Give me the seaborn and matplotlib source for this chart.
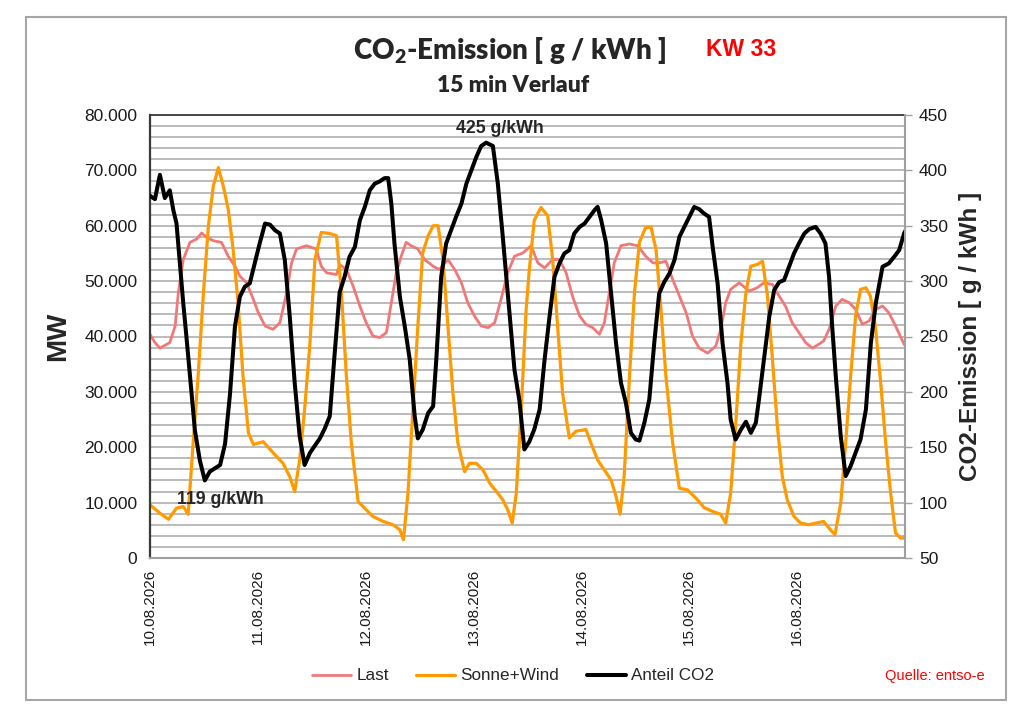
import pandas as pd
import numpy as np
import matplotlib
matplotlib.use("Agg")
import matplotlib.pyplot as plt
import matplotlib.dates as mdates
from matplotlib.patches import Rectangle
from matplotlib.ticker import MultipleLocator, FuncFormatter
import seaborn as sns

# Werte: (Stunde ab 10.08.2026 00:00, Wert)
last_pts = [
    (0, 40400), (1.1, 38900), (2.2, 37900), (4.4, 38900), (5.6, 41900), (6.3, 47900),
    (7.4, 53900), (8.9, 57000), (10.4, 57600), (11.5, 58700), (12.6, 57900), (14.1, 57300),
    (15.9, 57000), (17.4, 54500), (18.9, 52700), (20, 50900), (21.5, 49700), (23, 46700),
    (24.1, 44300), (25.6, 41900), (27.4, 41300), (28.9, 42500), (30.4, 47900), (31.5, 53300),
    (32.6, 55800), (34.8, 56400), (37, 55800), (38.1, 52700), (39.3, 51500), (41.5, 51200),
    (42.2, 53000), (43.7, 52100), (45.2, 49100), (46.7, 45500), (48.1, 42500), (49.6, 40100),
    (51.1, 39800), (52.6, 40700), (53.7, 46100), (54.8, 51500), (55.9, 54500), (57, 57000),
    (58.1, 56400), (59.6, 55800), (61.1, 53900), (63, 52700), (64.4, 52100), (66.3, 53900),
    (67.8, 52100), (69.3, 49700), (70.7, 46100), (72.2, 43700), (73.7, 41900), (75.2, 41600),
    (76.7, 42500), (78.1, 46700), (79.6, 51500), (81.1, 54500), (83, 55100), (84.8, 56400),
    (86.3, 53300), (87.8, 52400), (89.6, 53900), (91.1, 53900), (92.6, 51500), (94, 47300),
    (95.6, 43700), (97, 42200), (98.5, 41600), (100, 40400), (101.1, 42500), (102.2, 47900),
    (103.3, 53300), (104.8, 56400), (106.7, 56700), (108.5, 56400), (110.3, 54500), (111.9, 53300),
    (113.3, 53300), (114.8, 53600), (116.3, 50300), (117.8, 47300), (119.3, 44300), (120.7, 40100),
    (122.2, 37900), (124.1, 37000), (125.9, 38300), (127, 41300), (128.1, 46100), (129.2, 48500),
    (131.1, 49700), (133.3, 48200), (135.1, 48800), (136.6, 49700), (138.5, 49400), (140, 47300),
    (141.4, 45500), (142.9, 42500), (144.4, 40700), (145.9, 38900), (147.4, 37900), (148.8, 38600),
    (149.9, 39200), (151.1, 41300), (152.6, 45500), (154, 46700), (155.6, 46100), (157, 44900),
    (158.5, 42200), (160, 42800), (161.5, 44900), (163, 45500), (164.4, 44300), (165.9, 41900),
    (167.8, 38600), (168, 38400),
]

sonne_wind_pts = [
    (0, 9600), (2.2, 8100), (4.1, 7000), (5.9, 9000), (7.4, 9300), (8.5, 7900),
    (9.6, 20800), (10.7, 32800), (11.9, 48000), (13, 60000), (14.1, 67200), (15.2, 70500),
    (16.3, 67200), (17.4, 63000), (18.5, 55700), (19.6, 46100), (20.7, 32800), (21.9, 22600),
    (23, 20500), (25.2, 21000), (27.4, 19000), (29.6, 17100), (31.1, 14700), (32.2, 12000),
    (33.3, 17700), (34.4, 26800), (35.6, 38900), (36.7, 53900), (38.1, 58800), (40, 58600),
    (41.5, 58200), (42.6, 47900), (43.7, 32800), (44.8, 20800), (46.3, 10200), (47.4, 9300),
    (49.6, 7500), (51.9, 6600), (54.1, 6000), (55.6, 5100), (56.4, 3300), (57.4, 11700),
    (58.5, 26800), (59.6, 41900), (60.7, 55200), (61.9, 58200), (63, 60000), (64.1, 60000),
    (65.2, 53900), (66.3, 41900), (67.4, 29800), (68.5, 20800), (70, 15600), (71.1, 17100),
    (72.6, 17100), (74.1, 15900), (75.6, 13500), (77.4, 11700), (78.5, 10500), (79.6, 8700),
    (80.6, 6300), (81.5, 11700), (82.6, 26800), (83.7, 44900), (84.4, 52000), (85.5, 61000),
    (87, 63300), (88.5, 61800), (89.6, 53900), (90.7, 41900), (91.8, 29800), (93.3, 21700),
    (94.8, 22900), (97, 23200), (98.1, 20800), (99.6, 17700), (101.1, 15900), (102.6, 14100),
    (103.7, 11100), (104.6, 7900), (105.5, 14700), (106.7, 32800), (107.8, 47900), (108.9, 57000),
    (110.3, 59700), (111.5, 59700), (112.6, 55700), (113.7, 44900), (114.8, 32800), (116.3, 20800),
    (117.8, 12600), (119.6, 12300), (121.5, 10800), (123.3, 9100), (125.2, 8400), (127, 7900),
    (128.1, 6300), (129.2, 11700), (130.3, 23800), (131.5, 38900), (132.6, 47900), (133.7, 52700),
    (135.1, 53000), (136.3, 53600), (137.4, 47300), (138.5, 35900), (139.6, 23800), (140.7, 14700),
    (141.8, 10500), (143.3, 7500), (144.8, 6300), (146.6, 6000), (148.1, 6300), (149.9, 6600),
    (151.4, 5100), (152.4, 4200), (153.7, 9900), (154.8, 20800), (155.9, 32800), (157, 43700),
    (158.1, 48500), (159.3, 48800), (160.3, 47300), (161.4, 41900), (162.6, 31600), (163.7, 20800),
    (164.8, 11700), (165.9, 4500), (167, 3600), (168, 3600),
]

co2_pts = [
    (0, 377), (1.1, 374), (2.2, 396), (3.3, 375), (4.4, 382), (5.2, 364), (5.9, 352),
    (6.7, 313), (7.4, 280), (8.1, 250), (8.9, 214), (10, 165), (11.1, 138), (12.2, 120),
    (13.3, 128), (15.6, 134), (16.7, 153), (17.8, 198), (18.9, 259), (20, 286), (21.1, 295),
    (22.2, 298), (23.3, 316), (24.4, 334), (25.6, 352), (26.7, 351), (27.8, 346), (28.9, 343),
    (30, 319), (31.1, 268), (32.2, 208), (33.3, 160), (34.4, 134), (35.6, 145), (37.8, 158),
    (38.9, 167), (40, 178), (41.1, 235), (42.2, 290), (43.3, 304), (44.4, 322), (45.6, 331),
    (46.7, 355), (47.8, 367), (48.9, 382), (50, 388), (51.1, 390), (52.2, 393), (53, 393),
    (53.7, 370), (54.4, 334), (55.6, 286), (56.7, 259), (57.8, 229), (58.9, 178), (59.6, 158),
    (60.7, 166), (61.9, 181), (63, 187), (63.7, 229), (64.8, 304), (65.9, 334), (67, 346),
    (68.1, 358), (69.3, 370), (70.4, 388), (71.5, 400), (72.6, 412), (73.7, 422), (74.8, 425),
    (76.3, 422), (77.4, 388), (78.5, 340), (79.6, 289), (81.1, 220), (82.2, 192), (83.3, 148),
    (84.4, 155), (85.5, 166), (86.7, 184), (87.8, 229), (88.9, 268), (90, 304), (91.1, 316),
    (92.2, 325), (93.3, 328), (94.4, 343), (95.6, 349), (96.7, 352), (97.8, 358), (98.9, 364),
    (99.6, 367), (100.4, 355), (101.5, 334), (102.6, 289), (103.7, 244), (104.8, 208), (105.9, 190),
    (107, 163), (108.1, 157), (108.9, 156), (110, 172), (111.1, 193), (112.2, 244), (113.3, 289),
    (114.4, 299), (115.6, 307), (116.7, 319), (117.8, 340), (118.9, 349), (120, 358), (121.1, 367),
    (122.2, 365), (123.3, 361), (124.4, 358), (125.2, 331), (126.3, 298), (127.4, 244), (128.5, 208),
    (129.2, 175), (130.3, 157), (131.5, 166), (132.6, 173), (133.7, 163), (134.8, 172), (135.5, 193),
    (136.6, 229), (137.8, 268), (138.9, 292), (140, 299), (141.1, 301), (142.2, 313), (143.3, 325),
    (144.4, 334), (145.6, 343), (146.7, 347), (148.1, 349), (149.2, 343), (150.3, 334), (151.1, 304),
    (151.8, 259), (152.6, 214), (153.7, 160), (154.8, 124), (155.9, 133), (157, 145), (158.1, 157),
    (159.3, 184), (160.4, 244), (161.5, 280), (163, 313), (164.4, 316), (165.6, 322), (166.7, 328),
    (167.8, 343), (168, 345),
]

serien_namen = ["Last", "Sonne+Wind", "Anteil CO2"]
start = pd.Timestamp("2026-08-10")
tage = pd.date_range(start, periods=7, freq="D")
links_ticks = list(range(0, 80001, 10000))
rechts_ticks = list(range(50, 451, 50))

farbe_last = "#F27878"
farbe_sw = "#FF9B00"
farbe_co2 = "#000000"


def als_df(pts):
    df = pd.DataFrame(pts, columns=["stunde", "wert"])
    df["zeit"] = start + pd.to_timedelta(df["stunde"], unit="h")
    return df


df_last = als_df(last_pts)
df_sw = als_df(sonne_wind_pts)
df_co2 = als_df(co2_pts)

sns.set_style("white")
plt.rcParams["font.family"] = ["Liberation Sans", "DejaVu Sans"]
plt.rcParams["mathtext.fontset"] = "custom"
plt.rcParams["mathtext.rm"] = "Lato:heavy"
plt.rcParams["mathtext.bf"] = "Lato:heavy"

fig = plt.figure(figsize=(10.24, 7.21), dpi=100)
ax = fig.add_axes([150 / 1024, 1 - 558 / 721, 755 / 1024, 443 / 721])
ax2 = ax.twinx()

sns.lineplot(data=df_last, x="zeit", y="wert", ax=ax, color=farbe_last, lw=2.0,
             estimator=None, legend=False)
h_last = ax.lines[-1]
sns.lineplot(data=df_sw, x="zeit", y="wert", ax=ax, color=farbe_sw, lw=2.3,
             estimator=None, legend=False)
h_sw = ax.lines[-1]
sns.lineplot(data=df_co2, x="zeit", y="wert", ax=ax2, color=farbe_co2, lw=2.9,
             estimator=None, legend=False)
h_co2 = ax2.lines[-1]

# Achsen
ax.set_xlim(start, start + pd.Timedelta(days=7))
ax.set_xticks(tage)
ax.xaxis.set_major_formatter(mdates.DateFormatter("%d.%m.%Y"))
ax.tick_params(axis="x", length=0, labelsize=11, pad=8, labelrotation=90, colors="#1a1a1a")
ax.set_xlabel("")

ax.set_ylim(0, 80000)
ax.set_yticks(links_ticks)
ax.yaxis.set_minor_locator(MultipleLocator(2000))
ax.yaxis.set_major_formatter(FuncFormatter(lambda v, p: f"{v:,.0f}".replace(",", ".")))
ax.tick_params(axis="y", which="both", length=0, labelsize=12.5, pad=9, colors="#1a1a1a")
ax.grid(axis="y", which="both", color="#b5b5b5", lw=1.3)
ax.grid(axis="x", visible=False)
ax.set_axisbelow(True)
ax.set_ylabel("MW", fontsize=20, fontweight="bold")
ax.yaxis.set_label_coords(-0.105, 0.5)

ax2.set_ylim(50, 450)
ax2.set_yticks(rechts_ticks)
ax2.tick_params(axis="y", length=5, width=1, labelsize=12.5, pad=5, colors="#1a1a1a")
ax2.tick_params(axis="y", color="#a0a0a0")
ax2.set_ylabel("CO2-Emission [ g / kWh ]", fontsize=17.5, fontweight="bold")
ax2.yaxis.set_label_coords(1.071, 0.5)
ax2.grid(False)

for name, sp in ax.spines.items():
    sp.set_visible(True)
ax.spines["left"].set_color("#3a3a3a")
ax.spines["left"].set_linewidth(1.6)
ax.spines["top"].set_color("#3a3a3a")
ax.spines["top"].set_linewidth(1.3)
ax.spines["bottom"].set_color("#a0a0a0")
ax.spines["bottom"].set_linewidth(1.5)
ax.spines["right"].set_visible(False)
for name in ["left", "top", "bottom"]:
    ax2.spines[name].set_visible(False)
ax2.spines["right"].set_color("#a0a0a0")
ax2.spines["right"].set_linewidth(1.5)

# Min / Max Beschriftung
i_max = df_co2["wert"].idxmax()
i_min = df_co2["wert"].idxmin()
ax2.annotate(f"{df_co2['wert'][i_max]:.0f} g/kWh",
             xy=(df_co2["zeit"][i_max], df_co2["wert"][i_max]),
             xytext=(10, 4), textcoords="offset points", ha="center", va="bottom",
             fontsize=12.8, fontweight="bold", annotation_clip=False)
ax2.annotate(f"{df_co2['wert'][i_min] - 1:.0f} g/kWh",
             xy=(df_co2["zeit"][i_min], df_co2["wert"][i_min]),
             xytext=(11.5, -14), textcoords="offset points", ha="center", va="center",
             fontsize=12.8, fontweight="bold", annotation_clip=False)

# Titel
fig.text(510 / 1024, 1 - 50 / 721, r"CO$_\mathbf{2}$-Emission [ g / kWh ]", ha="center",
         va="center", fontsize=20, fontweight="heavy", family=["Lato", "DejaVu Sans"])
fig.text(706 / 1024, 1 - 50 / 721, "KW 33", ha="left", va="center", fontsize=16.5,
         fontweight="bold", color="#FF0000")
fig.text(513 / 1024, 1 - 85 / 721, "15 min Verlauf", ha="center", va="center",
         fontsize=16.5, fontweight="heavy", family=["Lato", "DejaVu Sans"])

# Legende und Quelle
fig.legend([h_last, h_sw, h_co2], serien_namen, loc="center",
           bbox_to_anchor=(513 / 1024, 1 - 676 / 721), ncol=3, frameon=False,
           fontsize=12.3, handlelength=2.3, handletextpad=0.3, columnspacing=1.6)
fig.text(985 / 1024, 1 - 676 / 721, "Quelle: entso-e", ha="right", va="center",
         fontsize=10.5, color="#FF0000")

# Rahmen um das Diagramm
fig.patches.append(Rectangle((26 / 1024, 1 - 700 / 721), 980 / 1024, 683 / 721,
                             transform=fig.transFigure, fill=False,
                             edgecolor="#a6a6a6", lw=1.5))

fig.savefig("out.png", dpi=100, facecolor="white")
